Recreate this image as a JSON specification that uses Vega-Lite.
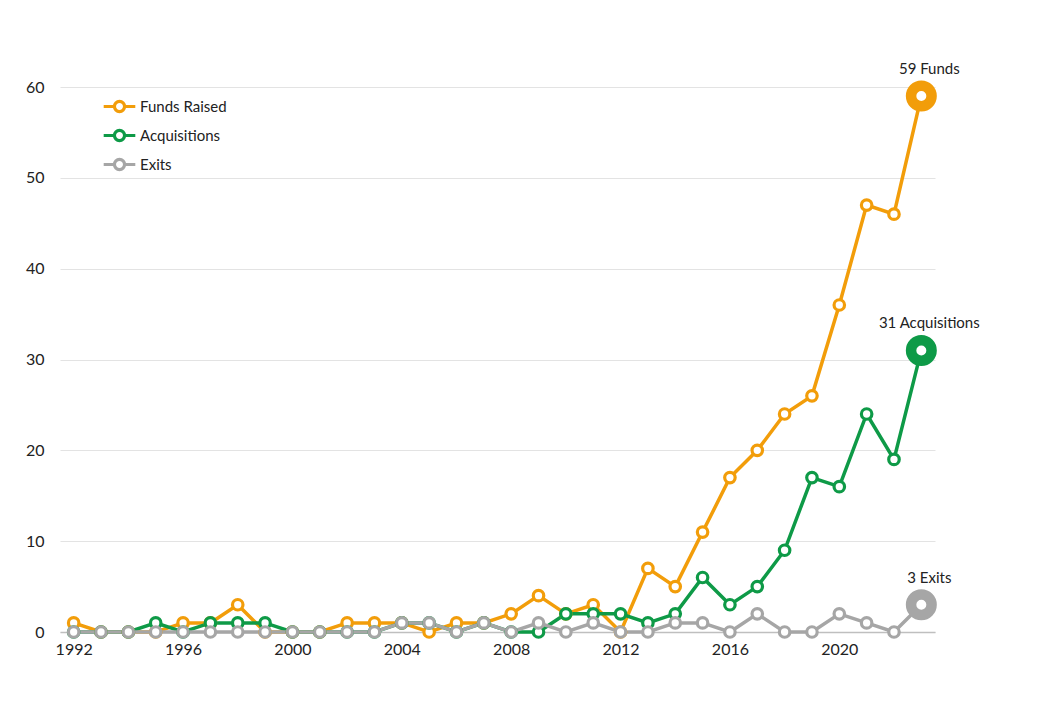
{
  "$schema": "https://vega.github.io/schema/vega-lite/v6.json",
  "width": 875,
  "height": 545,
  "autosize": "none",
  "padding": {"left": 60, "top": 87, "right": 127, "bottom": 76},
  "background": "white",
  "config": {
    "view": {"stroke": null},
    "font": "Lato",
    "axis": {"labelFont": "Lato", "labelFontSize": 16, "labelColor": "#222", "title": null}
  },
  "data": {"values": [
    {"year":1992,"series":"Funds Raised","value":1},{"year":1993,"series":"Funds Raised","value":0},{"year":1994,"series":"Funds Raised","value":0},{"year":1995,"series":"Funds Raised","value":0},{"year":1996,"series":"Funds Raised","value":1},{"year":1997,"series":"Funds Raised","value":1},{"year":1998,"series":"Funds Raised","value":3},{"year":1999,"series":"Funds Raised","value":0},{"year":2000,"series":"Funds Raised","value":0},{"year":2001,"series":"Funds Raised","value":0},{"year":2002,"series":"Funds Raised","value":1},{"year":2003,"series":"Funds Raised","value":1},{"year":2004,"series":"Funds Raised","value":1},{"year":2005,"series":"Funds Raised","value":0},{"year":2006,"series":"Funds Raised","value":1},{"year":2007,"series":"Funds Raised","value":1},{"year":2008,"series":"Funds Raised","value":2},{"year":2009,"series":"Funds Raised","value":4},{"year":2010,"series":"Funds Raised","value":2},{"year":2011,"series":"Funds Raised","value":3},{"year":2012,"series":"Funds Raised","value":0},{"year":2013,"series":"Funds Raised","value":7},{"year":2014,"series":"Funds Raised","value":5},{"year":2015,"series":"Funds Raised","value":11},{"year":2016,"series":"Funds Raised","value":17},{"year":2017,"series":"Funds Raised","value":20},{"year":2018,"series":"Funds Raised","value":24},{"year":2019,"series":"Funds Raised","value":26},{"year":2020,"series":"Funds Raised","value":36},{"year":2021,"series":"Funds Raised","value":47},{"year":2022,"series":"Funds Raised","value":46},{"year":2023,"series":"Funds Raised","value":59},
    {"year":1992,"series":"Acquisitions","value":0},{"year":1993,"series":"Acquisitions","value":0},{"year":1994,"series":"Acquisitions","value":0},{"year":1995,"series":"Acquisitions","value":1},{"year":1996,"series":"Acquisitions","value":0},{"year":1997,"series":"Acquisitions","value":1},{"year":1998,"series":"Acquisitions","value":1},{"year":1999,"series":"Acquisitions","value":1},{"year":2000,"series":"Acquisitions","value":0},{"year":2001,"series":"Acquisitions","value":0},{"year":2002,"series":"Acquisitions","value":0},{"year":2003,"series":"Acquisitions","value":0},{"year":2004,"series":"Acquisitions","value":1},{"year":2005,"series":"Acquisitions","value":1},{"year":2006,"series":"Acquisitions","value":0},{"year":2007,"series":"Acquisitions","value":1},{"year":2008,"series":"Acquisitions","value":0},{"year":2009,"series":"Acquisitions","value":0},{"year":2010,"series":"Acquisitions","value":2},{"year":2011,"series":"Acquisitions","value":2},{"year":2012,"series":"Acquisitions","value":2},{"year":2013,"series":"Acquisitions","value":1},{"year":2014,"series":"Acquisitions","value":2},{"year":2015,"series":"Acquisitions","value":6},{"year":2016,"series":"Acquisitions","value":3},{"year":2017,"series":"Acquisitions","value":5},{"year":2018,"series":"Acquisitions","value":9},{"year":2019,"series":"Acquisitions","value":17},{"year":2020,"series":"Acquisitions","value":16},{"year":2021,"series":"Acquisitions","value":24},{"year":2022,"series":"Acquisitions","value":19},{"year":2023,"series":"Acquisitions","value":31},
    {"year":1992,"series":"Exits","value":0},{"year":1993,"series":"Exits","value":0},{"year":1994,"series":"Exits","value":0},{"year":1995,"series":"Exits","value":0},{"year":1996,"series":"Exits","value":0},{"year":1997,"series":"Exits","value":0},{"year":1998,"series":"Exits","value":0},{"year":1999,"series":"Exits","value":0},{"year":2000,"series":"Exits","value":0},{"year":2001,"series":"Exits","value":0},{"year":2002,"series":"Exits","value":0},{"year":2003,"series":"Exits","value":0},{"year":2004,"series":"Exits","value":1},{"year":2005,"series":"Exits","value":1},{"year":2006,"series":"Exits","value":0},{"year":2007,"series":"Exits","value":1},{"year":2008,"series":"Exits","value":0},{"year":2009,"series":"Exits","value":1},{"year":2010,"series":"Exits","value":0},{"year":2011,"series":"Exits","value":1},{"year":2012,"series":"Exits","value":0},{"year":2013,"series":"Exits","value":0},{"year":2014,"series":"Exits","value":1},{"year":2015,"series":"Exits","value":1},{"year":2016,"series":"Exits","value":0},{"year":2017,"series":"Exits","value":2},{"year":2018,"series":"Exits","value":0},{"year":2019,"series":"Exits","value":0},{"year":2020,"series":"Exits","value":2},{"year":2021,"series":"Exits","value":1},{"year":2022,"series":"Exits","value":0},{"year":2023,"series":"Exits","value":3}
  ]},
  "encoding": {
    "x": {"field": "year", "type": "quantitative", "scale": {"domain": [1991.5, 2023.5], "nice": false, "zero": false},
      "axis": {"values": [1992,1996,2000,2004,2008,2012,2016,2020], "format": "d", "grid": false, "ticks": false, "domainColor": "#bfbfbf", "domainWidth": 1.5, "labelPadding": 9}},
    "y": {"field": "value", "type": "quantitative", "scale": {"domain": [0, 60], "nice": false},
      "axis": {"values": [0,10,20,30,40,50,60], "domain": false, "ticks": false, "gridColor": "#e3e3e3", "labelPadding": 16}},
    "color": {"field": "series", "type": "nominal",
      "scale": {"domain": ["Funds Raised", "Acquisitions", "Exits"], "range": ["#F29D0A", "#0E9A47", "#A6A6A6"]}}
  },
  "layer": [
    {
      "mark": {"type": "line", "strokeWidth": 3.5,
        "point": {"filled": false, "fill": "white", "size": 110, "strokeWidth": 3.2}},
      "encoding": {
        "order": {"field": "year"},
        "color": {"field": "series", "type": "nominal",
          "scale": {"domain": ["Funds Raised", "Acquisitions", "Exits"], "range": ["#F29D0A", "#0E9A47", "#A6A6A6"]},
          "legend": {"title": null, "orient": "none", "legendX": 42, "legendY": 2,
            "labelFontSize": 15, "labelColor": "#222", "labelFont": "Lato",
            "symbolType": "M-1,0L-0.32,0M0.32,0L1,0M-0.32,0A0.32,0.32 0 1,1 0.32,0A0.32,0.32 0 1,1 -0.32,0Z",
            "symbolSize": 1000, "symbolStrokeWidth": 3.2, "symbolFillColor": "white", "rowPadding": -2, "labelOffset": 3}}
      }
    },
    {
      "transform": [{"filter": "datum.year == 2023"}],
      "mark": {"type": "point", "filled": false, "fill": "white", "size": 420, "strokeWidth": 10.5, "opacity": 1},
      "encoding": {"color": {"field": "series", "type": "nominal", "legend": null}}
    },
    {
      "transform": [
        {"filter": "datum.year == 2023"},
        {"calculate": "datum.value + ' ' + (datum.series == 'Funds Raised' ? 'Funds' : datum.series)", "as": "label"}
      ],
      "mark": {"type": "text", "dy": -27, "dx": 8, "fontSize": 15, "color": "#222", "font": "Lato"},
      "encoding": {"text": {"field": "label"}, "color": {"value": "#222"}}
    }
  ]
}
